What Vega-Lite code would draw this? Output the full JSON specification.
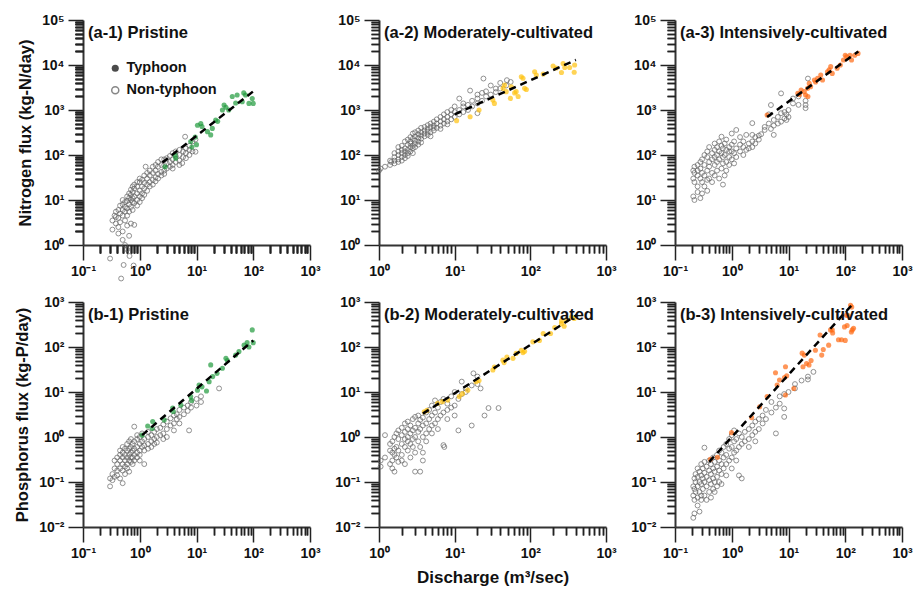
{
"$schema": "https://vega.github.io/schema/vega-lite/v6.json",
"background": "white",
"padding": {"left": 14, "top": 13, "right": 5, "bottom": 5},
"columns": 3,
"bounds": "flush",
"spacing": {"row": 57, "column": 69},
"concat": [
{
"width": 227, "height": 225,
"title": {"text": "(a-1) Pristine", "anchor": "start", "frame": "group", "offset": -28, "dx": 5},
"resolve": {"axis": {"x": "independent", "y": "independent"}, "scale": {"shape": "independent"}, "legend": {"shape": "independent"}},
"layer": [
{"data": {"name": "a1n"}, "mark": {"type": "point", "filled": false, "stroke": "#626262", "strokeWidth": 1, "size": 24, "clip": false},
"encoding": {
"x": {"field": "x", "type": "quantitative", "scale": {"type": "log", "domain": [0.1, 1000], "nice": false}, "axis": {"orient": "bottom", "title": null, "values": [0.1,1,10,100,1000], "labelExpr": "'10' + ['⁻²','⁻¹','⁰','¹','²','³','⁴','⁵'][round(log(datum.value)/LN10)+2]", "tickSize": 15}},
"y": {"field": "y", "type": "quantitative", "scale": {"type": "log", "domain": [1, 100000], "nice": false}, "axis": {"orient": "left", "title": "Nitrogen flux (kg-N/day)", "values": [1,10,100,1000,10000,100000], "labelExpr": "'10' + ['⁻²','⁻¹','⁰','¹','²','³','⁴','⁵'][round(log(datum.value)/LN10)+2]", "tickSize": 15}}}},
{"data": {"name": "a1t"}, "mark": {"type": "point", "filled": true, "color": "#1f9a3c", "size": 26, "clip": false},
"encoding": {
"x": {"field": "x", "type": "quantitative", "axis": {"orient": "bottom", "title": null, "values": [0.2,0.3,0.4,0.5,0.6,0.7,0.8,0.9,2,3,4,5,6,7,8,9,20,30,40,50,60,70,80,90,200,300,400,500,600,700,800,900], "labels": false, "domain": false, "tickSize": 8}},
"y": {"field": "y", "type": "quantitative", "axis": {"orient": "left", "title": null, "values": [2,3,4,5,6,7,8,9,20,30,40,50,60,70,80,90,200,300,400,500,600,700,800,900,2000,3000,4000,5000,6000,7000,8000,9000,20000,30000,40000,50000,60000,70000,80000,90000], "labels": false, "domain": false, "tickSize": 8}}}},
{"data": {"name": "a1l"}, "mark": {"type": "line", "color": "#000000", "strokeWidth": 2.5, "strokeDash": [7, 5], "clip": false},
"encoding": {
"x": {"field": "x", "type": "quantitative", "axis": {"orient": "bottom", "title": null, "values": [0.2,0.3,0.4,0.5,0.6,0.7,0.8,0.9,2,3,4,5,6,7,8,9,20,30,40,50,60,70,80,90,200,300,400,500,600,700,800,900], "labels": false, "domain": false, "tickSize": 8}},
"y": {"field": "y", "type": "quantitative", "axis": {"orient": "left", "title": null, "values": [2,3,4,5,6,7,8,9,20,30,40,50,60,70,80,90,200,300,400,500,600,700,800,900,2000,3000,4000,5000,6000,7000,8000,9000,20000,30000,40000,50000,60000,70000,80000,90000], "labels": false, "domain": false, "tickSize": 8}}}},
{"data": {"name": "a1l"}, "mark": {"type": "point", "filled": true, "color": "#000000", "size": 0, "clip": false},
"encoding": {
"x": {"field": "x", "type": "quantitative", "axis": {"orient": "bottom", "title": null, "values": [0.2,0.3,0.4,0.5,0.6,0.7,0.8,0.9,2,3,4,5,6,7,8,9,20,30,40,50,60,70,80,90,200,300,400,500,600,700,800,900], "labels": false, "domain": false, "tickSize": 8}},
"y": {"field": "y", "type": "quantitative", "axis": {"orient": "left", "title": null, "values": [2,3,4,5,6,7,8,9,20,30,40,50,60,70,80,90,200,300,400,500,600,700,800,900,2000,3000,4000,5000,6000,7000,8000,9000,20000,30000,40000,50000,60000,70000,80000,90000], "labels": false, "domain": false, "tickSize": 8}},
"shape": {"datum": "Typhoon", "scale": {"range": ["circle"]}, "legend": {"title": null, "orient": "none", "legendX": 25, "legendY": 41, "padding": 0, "symbolSize": 50, "labelOffset": 4, "labelFontSize": 14.5, "labelFontWeight": "bold", "labelFont": "Liberation Sans", "labelColor": "#111111"}}}},
{"data": {"name": "a1l"}, "mark": {"type": "point", "filled": false, "color": "#555555", "strokeWidth": 1, "size": 0, "clip": false},
"encoding": {
"x": {"field": "x", "type": "quantitative", "axis": {"orient": "bottom", "title": null, "values": [0.2,0.3,0.4,0.5,0.6,0.7,0.8,0.9,2,3,4,5,6,7,8,9,20,30,40,50,60,70,80,90,200,300,400,500,600,700,800,900], "labels": false, "domain": false, "tickSize": 8}},
"y": {"field": "y", "type": "quantitative", "axis": {"orient": "left", "title": null, "values": [2,3,4,5,6,7,8,9,20,30,40,50,60,70,80,90,200,300,400,500,600,700,800,900,2000,3000,4000,5000,6000,7000,8000,9000,20000,30000,40000,50000,60000,70000,80000,90000], "labels": false, "domain": false, "tickSize": 8}},
"shape": {"datum": "Non-typhoon", "scale": {"range": ["circle"]}, "legend": {"title": null, "orient": "none", "legendX": 25, "legendY": 63, "padding": 0, "symbolSize": 50, "labelOffset": 4, "labelFontSize": 14.5, "labelFontWeight": "bold", "labelFont": "Liberation Sans", "labelColor": "#111111"}}}}
]
},
{
"width": 227, "height": 225,
"title": {"text": "(a-2) Moderately-cultivated", "anchor": "start", "frame": "group", "offset": -28, "dx": 5},
"resolve": {"axis": {"x": "independent", "y": "independent"}},
"layer": [
{"data": {"name": "a2n"}, "mark": {"type": "point", "filled": false, "stroke": "#626262", "strokeWidth": 1, "size": 24, "clip": false},
"encoding": {
"x": {"field": "x", "type": "quantitative", "scale": {"type": "log", "domain": [1, 1000], "nice": false}, "axis": {"orient": "bottom", "title": null, "values": [1,10,100,1000], "labelExpr": "'10' + ['⁻²','⁻¹','⁰','¹','²','³','⁴','⁵'][round(log(datum.value)/LN10)+2]", "tickSize": 15}},
"y": {"field": "y", "type": "quantitative", "scale": {"type": "log", "domain": [1, 100000], "nice": false}, "axis": {"orient": "left", "title": null, "values": [1,10,100,1000,10000,100000], "labelExpr": "'10' + ['⁻²','⁻¹','⁰','¹','²','³','⁴','⁵'][round(log(datum.value)/LN10)+2]", "tickSize": 15}}}},
{"data": {"name": "a2t"}, "mark": {"type": "point", "filled": true, "color": "#ffc20e", "size": 26, "clip": false},
"encoding": {
"x": {"field": "x", "type": "quantitative", "axis": {"orient": "bottom", "title": null, "values": [2,3,4,5,6,7,8,9,20,30,40,50,60,70,80,90,200,300,400,500,600,700,800,900], "labels": false, "domain": false, "tickSize": 8}},
"y": {"field": "y", "type": "quantitative", "axis": {"orient": "left", "title": null, "values": [2,3,4,5,6,7,8,9,20,30,40,50,60,70,80,90,200,300,400,500,600,700,800,900,2000,3000,4000,5000,6000,7000,8000,9000,20000,30000,40000,50000,60000,70000,80000,90000], "labels": false, "domain": false, "tickSize": 8}}}},
{"data": {"name": "a2l"}, "mark": {"type": "line", "color": "#000000", "strokeWidth": 2.5, "strokeDash": [7, 5], "clip": false},
"encoding": {
"x": {"field": "x", "type": "quantitative", "axis": {"orient": "bottom", "title": null, "values": [2,3,4,5,6,7,8,9,20,30,40,50,60,70,80,90,200,300,400,500,600,700,800,900], "labels": false, "domain": false, "tickSize": 8}},
"y": {"field": "y", "type": "quantitative", "axis": {"orient": "left", "title": null, "values": [2,3,4,5,6,7,8,9,20,30,40,50,60,70,80,90,200,300,400,500,600,700,800,900,2000,3000,4000,5000,6000,7000,8000,9000,20000,30000,40000,50000,60000,70000,80000,90000], "labels": false, "domain": false, "tickSize": 8}}}}
]
},
{
"width": 227, "height": 225,
"title": {"text": "(a-3) Intensively-cultivated", "anchor": "start", "frame": "group", "offset": -28, "dx": 5},
"resolve": {"axis": {"x": "independent", "y": "independent"}},
"layer": [
{"data": {"name": "a3n"}, "mark": {"type": "point", "filled": false, "stroke": "#626262", "strokeWidth": 1, "size": 24, "clip": false},
"encoding": {
"x": {"field": "x", "type": "quantitative", "scale": {"type": "log", "domain": [0.1, 1000], "nice": false}, "axis": {"orient": "bottom", "title": null, "values": [0.1,1,10,100,1000], "labelExpr": "'10' + ['⁻²','⁻¹','⁰','¹','²','³','⁴','⁵'][round(log(datum.value)/LN10)+2]", "tickSize": 15}},
"y": {"field": "y", "type": "quantitative", "scale": {"type": "log", "domain": [1, 100000], "nice": false}, "axis": {"orient": "left", "title": null, "values": [1,10,100,1000,10000,100000], "labelExpr": "'10' + ['⁻²','⁻¹','⁰','¹','²','³','⁴','⁵'][round(log(datum.value)/LN10)+2]", "tickSize": 15}}}},
{"data": {"name": "a3t"}, "mark": {"type": "point", "filled": true, "color": "#ff6a13", "size": 26, "clip": false},
"encoding": {
"x": {"field": "x", "type": "quantitative", "axis": {"orient": "bottom", "title": null, "values": [0.2,0.3,0.4,0.5,0.6,0.7,0.8,0.9,2,3,4,5,6,7,8,9,20,30,40,50,60,70,80,90,200,300,400,500,600,700,800,900], "labels": false, "domain": false, "tickSize": 8}},
"y": {"field": "y", "type": "quantitative", "axis": {"orient": "left", "title": null, "values": [2,3,4,5,6,7,8,9,20,30,40,50,60,70,80,90,200,300,400,500,600,700,800,900,2000,3000,4000,5000,6000,7000,8000,9000,20000,30000,40000,50000,60000,70000,80000,90000], "labels": false, "domain": false, "tickSize": 8}}}},
{"data": {"name": "a3l"}, "mark": {"type": "line", "color": "#000000", "strokeWidth": 2.5, "strokeDash": [7, 5], "clip": false},
"encoding": {
"x": {"field": "x", "type": "quantitative", "axis": {"orient": "bottom", "title": null, "values": [0.2,0.3,0.4,0.5,0.6,0.7,0.8,0.9,2,3,4,5,6,7,8,9,20,30,40,50,60,70,80,90,200,300,400,500,600,700,800,900], "labels": false, "domain": false, "tickSize": 8}},
"y": {"field": "y", "type": "quantitative", "axis": {"orient": "left", "title": null, "values": [2,3,4,5,6,7,8,9,20,30,40,50,60,70,80,90,200,300,400,500,600,700,800,900,2000,3000,4000,5000,6000,7000,8000,9000,20000,30000,40000,50000,60000,70000,80000,90000], "labels": false, "domain": false, "tickSize": 8}}}}
]
},
{
"width": 227, "height": 225,
"title": {"text": "(b-1) Pristine", "anchor": "start", "frame": "group", "offset": -28, "dx": 5},
"resolve": {"axis": {"x": "independent", "y": "independent"}},
"layer": [
{"data": {"name": "b1n"}, "mark": {"type": "point", "filled": false, "stroke": "#626262", "strokeWidth": 1, "size": 24, "clip": false},
"encoding": {
"x": {"field": "x", "type": "quantitative", "scale": {"type": "log", "domain": [0.1, 1000], "nice": false}, "axis": {"orient": "bottom", "title": null, "values": [0.1,1,10,100,1000], "labelExpr": "'10' + ['⁻²','⁻¹','⁰','¹','²','³','⁴','⁵'][round(log(datum.value)/LN10)+2]", "tickSize": 15}},
"y": {"field": "y", "type": "quantitative", "scale": {"type": "log", "domain": [0.01, 1000], "nice": false}, "axis": {"orient": "left", "title": "Phosphorus flux (kg-P/day)", "values": [0.01,0.1,1,10,100,1000], "labelExpr": "'10' + ['⁻²','⁻¹','⁰','¹','²','³','⁴','⁵'][round(log(datum.value)/LN10)+2]", "tickSize": 15}}}},
{"data": {"name": "b1t"}, "mark": {"type": "point", "filled": true, "color": "#1f9a3c", "size": 26, "clip": false},
"encoding": {
"x": {"field": "x", "type": "quantitative", "axis": {"orient": "bottom", "title": null, "values": [0.2,0.3,0.4,0.5,0.6,0.7,0.8,0.9,2,3,4,5,6,7,8,9,20,30,40,50,60,70,80,90,200,300,400,500,600,700,800,900], "labels": false, "domain": false, "tickSize": 8}},
"y": {"field": "y", "type": "quantitative", "axis": {"orient": "left", "title": null, "values": [0.02,0.03,0.04,0.05,0.06,0.07,0.08,0.09,0.2,0.3,0.4,0.5,0.6,0.7,0.8,0.9,2,3,4,5,6,7,8,9,20,30,40,50,60,70,80,90,200,300,400,500,600,700,800,900], "labels": false, "domain": false, "tickSize": 8}}}},
{"data": {"name": "b1l"}, "mark": {"type": "line", "color": "#000000", "strokeWidth": 2.5, "strokeDash": [7, 5], "clip": false},
"encoding": {
"x": {"field": "x", "type": "quantitative", "axis": {"orient": "bottom", "title": null, "values": [0.2,0.3,0.4,0.5,0.6,0.7,0.8,0.9,2,3,4,5,6,7,8,9,20,30,40,50,60,70,80,90,200,300,400,500,600,700,800,900], "labels": false, "domain": false, "tickSize": 8}},
"y": {"field": "y", "type": "quantitative", "axis": {"orient": "left", "title": null, "values": [0.02,0.03,0.04,0.05,0.06,0.07,0.08,0.09,0.2,0.3,0.4,0.5,0.6,0.7,0.8,0.9,2,3,4,5,6,7,8,9,20,30,40,50,60,70,80,90,200,300,400,500,600,700,800,900], "labels": false, "domain": false, "tickSize": 8}}}}
]
},
{
"width": 227, "height": 225,
"title": {"text": "(b-2) Moderately-cultivated", "anchor": "start", "frame": "group", "offset": -28, "dx": 5},
"resolve": {"axis": {"x": "independent", "y": "independent"}},
"layer": [
{"data": {"name": "b2n"}, "mark": {"type": "point", "filled": false, "stroke": "#626262", "strokeWidth": 1, "size": 24, "clip": false},
"encoding": {
"x": {"field": "x", "type": "quantitative", "scale": {"type": "log", "domain": [1, 1000], "nice": false}, "axis": {"orient": "bottom", "title": "Discharge (m³/sec)", "titleFontSize": 17, "titlePadding": 9, "values": [1,10,100,1000], "labelExpr": "'10' + ['⁻²','⁻¹','⁰','¹','²','³','⁴','⁵'][round(log(datum.value)/LN10)+2]", "tickSize": 15}},
"y": {"field": "y", "type": "quantitative", "scale": {"type": "log", "domain": [0.01, 1000], "nice": false}, "axis": {"orient": "left", "title": null, "values": [0.01,0.1,1,10,100,1000], "labelExpr": "'10' + ['⁻²','⁻¹','⁰','¹','²','³','⁴','⁵'][round(log(datum.value)/LN10)+2]", "tickSize": 15}}}},
{"data": {"name": "b2t"}, "mark": {"type": "point", "filled": true, "color": "#ffc20e", "size": 26, "clip": false},
"encoding": {
"x": {"field": "x", "type": "quantitative", "axis": {"orient": "bottom", "title": null, "values": [2,3,4,5,6,7,8,9,20,30,40,50,60,70,80,90,200,300,400,500,600,700,800,900], "labels": false, "domain": false, "tickSize": 8}},
"y": {"field": "y", "type": "quantitative", "axis": {"orient": "left", "title": null, "values": [0.02,0.03,0.04,0.05,0.06,0.07,0.08,0.09,0.2,0.3,0.4,0.5,0.6,0.7,0.8,0.9,2,3,4,5,6,7,8,9,20,30,40,50,60,70,80,90,200,300,400,500,600,700,800,900], "labels": false, "domain": false, "tickSize": 8}}}},
{"data": {"name": "b2l"}, "mark": {"type": "line", "color": "#000000", "strokeWidth": 2.5, "strokeDash": [7, 5], "clip": false},
"encoding": {
"x": {"field": "x", "type": "quantitative", "axis": {"orient": "bottom", "title": null, "values": [2,3,4,5,6,7,8,9,20,30,40,50,60,70,80,90,200,300,400,500,600,700,800,900], "labels": false, "domain": false, "tickSize": 8}},
"y": {"field": "y", "type": "quantitative", "axis": {"orient": "left", "title": null, "values": [0.02,0.03,0.04,0.05,0.06,0.07,0.08,0.09,0.2,0.3,0.4,0.5,0.6,0.7,0.8,0.9,2,3,4,5,6,7,8,9,20,30,40,50,60,70,80,90,200,300,400,500,600,700,800,900], "labels": false, "domain": false, "tickSize": 8}}}}
]
},
{
"width": 227, "height": 225,
"title": {"text": "(b-3) Intensively-cultivated", "anchor": "start", "frame": "group", "offset": -28, "dx": 5},
"resolve": {"axis": {"x": "independent", "y": "independent"}},
"layer": [
{"data": {"name": "b3n"}, "mark": {"type": "point", "filled": false, "stroke": "#626262", "strokeWidth": 1, "size": 24, "clip": false},
"encoding": {
"x": {"field": "x", "type": "quantitative", "scale": {"type": "log", "domain": [0.1, 1000], "nice": false}, "axis": {"orient": "bottom", "title": null, "values": [0.1,1,10,100,1000], "labelExpr": "'10' + ['⁻²','⁻¹','⁰','¹','²','³','⁴','⁵'][round(log(datum.value)/LN10)+2]", "tickSize": 15}},
"y": {"field": "y", "type": "quantitative", "scale": {"type": "log", "domain": [0.01, 1000], "nice": false}, "axis": {"orient": "left", "title": null, "values": [0.01,0.1,1,10,100,1000], "labelExpr": "'10' + ['⁻²','⁻¹','⁰','¹','²','³','⁴','⁵'][round(log(datum.value)/LN10)+2]", "tickSize": 15}}}},
{"data": {"name": "b3t"}, "mark": {"type": "point", "filled": true, "color": "#ff6a13", "size": 26, "clip": false},
"encoding": {
"x": {"field": "x", "type": "quantitative", "axis": {"orient": "bottom", "title": null, "values": [0.2,0.3,0.4,0.5,0.6,0.7,0.8,0.9,2,3,4,5,6,7,8,9,20,30,40,50,60,70,80,90,200,300,400,500,600,700,800,900], "labels": false, "domain": false, "tickSize": 8}},
"y": {"field": "y", "type": "quantitative", "axis": {"orient": "left", "title": null, "values": [0.02,0.03,0.04,0.05,0.06,0.07,0.08,0.09,0.2,0.3,0.4,0.5,0.6,0.7,0.8,0.9,2,3,4,5,6,7,8,9,20,30,40,50,60,70,80,90,200,300,400,500,600,700,800,900], "labels": false, "domain": false, "tickSize": 8}}}},
{"data": {"name": "b3l"}, "mark": {"type": "line", "color": "#000000", "strokeWidth": 2.5, "strokeDash": [7, 5], "clip": false},
"encoding": {
"x": {"field": "x", "type": "quantitative", "axis": {"orient": "bottom", "title": null, "values": [0.2,0.3,0.4,0.5,0.6,0.7,0.8,0.9,2,3,4,5,6,7,8,9,20,30,40,50,60,70,80,90,200,300,400,500,600,700,800,900], "labels": false, "domain": false, "tickSize": 8}},
"y": {"field": "y", "type": "quantitative", "axis": {"orient": "left", "title": null, "values": [0.02,0.03,0.04,0.05,0.06,0.07,0.08,0.09,0.2,0.3,0.4,0.5,0.6,0.7,0.8,0.9,2,3,4,5,6,7,8,9,20,30,40,50,60,70,80,90,200,300,400,500,600,700,800,900], "labels": false, "domain": false, "tickSize": 8}}}}
]
}
],
"datasets": {
"a1t": [{"x":2.8,"y":55},{"x":4.2,"y":100},{"x":4.3,"y":85},{"x":7.9,"y":200},{"x":8.3,"y":150},{"x":9.5,"y":250},{"x":10,"y":170},{"x":10.4,"y":460},{"x":11.9,"y":500},{"x":12.5,"y":430},{"x":15.6,"y":330},{"x":17.8,"y":280},{"x":19,"y":390},{"x":21.8,"y":600},{"x":23.6,"y":560},{"x":28.6,"y":1000},{"x":30.6,"y":1290},{"x":33,"y":1150},{"x":37,"y":1000},{"x":42.7,"y":1990},{"x":49,"y":1430},{"x":52,"y":2150},{"x":64,"y":1530},{"x":68,"y":2400},{"x":73,"y":2150},{"x":84,"y":1400},{"x":96,"y":1800},{"x":100,"y":1400}],
"a1n": [{"x":0.33,"y":3.5},{"x":0.33,"y":2.2},{"x":0.36,"y":4.5},{"x":0.38,"y":4.2},{"x":0.38,"y":3.0},{"x":0.38,"y":5.5},{"x":0.42,"y":2.5},{"x":0.42,"y":6.0},{"x":0.42,"y":1.8},{"x":0.42,"y":4.0},{"x":0.45,"y":3.2},{"x":0.45,"y":7.5},{"x":0.45,"y":5.0},{"x":0.5,"y":4.5},{"x":0.5,"y":8.0},{"x":0.5,"y":1.3},{"x":0.5,"y":2.0},{"x":0.5,"y":6.0},{"x":0.5,"y":10},{"x":0.55,"y":1.0},{"x":0.55,"y":3.5},{"x":0.55,"y":7.0},{"x":0.55,"y":9.0},{"x":0.55,"y":5.5},{"x":0.6,"y":6.5},{"x":0.6,"y":12},{"x":0.6,"y":2.7},{"x":0.6,"y":0.8},{"x":0.6,"y":9.5},{"x":0.6,"y":4.5},{"x":0.65,"y":8.0},{"x":0.65,"y":11},{"x":0.65,"y":14},{"x":0.65,"y":1.6},{"x":0.65,"y":5.5},{"x":0.7,"y":7.0},{"x":0.7,"y":10},{"x":0.7,"y":13},{"x":0.7,"y":3.0},{"x":0.7,"y":17},{"x":0.75,"y":9.0},{"x":0.75,"y":15},{"x":0.75,"y":11},{"x":0.75,"y":6.0},{"x":0.75,"y":20},{"x":0.8,"y":8.5},{"x":0.8,"y":12},{"x":0.8,"y":18},{"x":0.8,"y":22},{"x":0.8,"y":2.8},{"x":0.9,"y":10},{"x":0.9,"y":14},{"x":0.9,"y":20},{"x":0.9,"y":25},{"x":0.9,"y":7.5},{"x":1.0,"y":12},{"x":1.0,"y":16},{"x":1.0,"y":25},{"x":1.0,"y":9},{"x":1.0,"y":30},{"x":1.1,"y":14},{"x":1.1,"y":20},{"x":1.1,"y":28},{"x":1.1,"y":11},{"x":1.2,"y":18},{"x":1.2,"y":24},{"x":1.2,"y":35},{"x":1.2,"y":13},{"x":1.27,"y":55},{"x":1.35,"y":22},{"x":1.35,"y":30},{"x":1.35,"y":16},{"x":1.35,"y":40},{"x":1.5,"y":25},{"x":1.5,"y":35},{"x":1.5,"y":45},{"x":1.5,"y":20},{"x":1.7,"y":28},{"x":1.7,"y":40},{"x":1.7,"y":55},{"x":1.7,"y":22},{"x":1.9,"y":32},{"x":1.9,"y":45},{"x":1.9,"y":60},{"x":1.9,"y":26},{"x":2.1,"y":38},{"x":2.1,"y":55},{"x":2.1,"y":70},{"x":2.1,"y":30},{"x":2.4,"y":42},{"x":2.4,"y":60},{"x":2.4,"y":80},{"x":2.4,"y":35},{"x":2.7,"y":45},{"x":2.7,"y":60},{"x":2.7,"y":80},{"x":2.7,"y":38},{"x":3.0,"y":50},{"x":3.0,"y":65},{"x":3.0,"y":85},{"x":3.4,"y":55},{"x":3.4,"y":70},{"x":3.4,"y":95},{"x":3.8,"y":60},{"x":3.8,"y":80},{"x":3.8,"y":110},{"x":3.8,"y":50},{"x":4.3,"y":70},{"x":4.3,"y":95},{"x":4.3,"y":120},{"x":5.0,"y":75},{"x":5.0,"y":100},{"x":5.0,"y":130},{"x":5.0,"y":60},{"x":5.6,"y":66},{"x":5.8,"y":90},{"x":5.8,"y":120},{"x":6.3,"y":255},{"x":6.5,"y":110},{"x":6.5,"y":140},{"x":6.5,"y":85},{"x":7.5,"y":130},{"x":7.5,"y":160},{"x":7.5,"y":100},{"x":8.5,"y":200},{"x":8.5,"y":120},{"x":9.6,"y":118},{"x":9.6,"y":220},{"x":0.30,"y":0.5},{"x":0.52,"y":0.36},{"x":0.78,"y":0.35},{"x":0.66,"y":0.57},{"x":0.47,"y":0.18}],
"a1l": [{"x":2.5,"y":68},{"x":100,"y":2600}],
"a2t": [{"x":10.6,"y":580},{"x":16,"y":710},{"x":21,"y":1000},{"x":32,"y":1660},{"x":33.5,"y":1400},{"x":43.6,"y":3030},{"x":45.6,"y":3600},{"x":48,"y":2560},{"x":54.5,"y":1810},{"x":56,"y":3280},{"x":62,"y":2400},{"x":65,"y":2560},{"x":69,"y":1990},{"x":76,"y":5500},{"x":80,"y":5070},{"x":84,"y":3030},{"x":88.6,"y":2850},{"x":114,"y":7100},{"x":120,"y":6000},{"x":148,"y":6300},{"x":200,"y":9500},{"x":220,"y":8600},{"x":258,"y":6800},{"x":271,"y":10800},{"x":285,"y":8800},{"x":331,"y":8800},{"x":380,"y":6900},{"x":385,"y":10000}],
"a2n": [{"x":1.0,"y":45},{"x":1.05,"y":50},{"x":1.2,"y":55},{"x":1.4,"y":60},{"x":1.4,"y":75},{"x":1.45,"y":70},{"x":1.6,"y":65},{"x":1.6,"y":90},{"x":1.6,"y":75},{"x":1.6,"y":110},{"x":1.8,"y":80},{"x":1.8,"y":120},{"x":1.8,"y":70},{"x":1.8,"y":150},{"x":1.8,"y":100},{"x":2.0,"y":90},{"x":2.0,"y":130},{"x":2.0,"y":160},{"x":2.0,"y":110},{"x":2.0,"y":75},{"x":2.2,"y":100},{"x":2.2,"y":140},{"x":2.2,"y":200},{"x":2.2,"y":120},{"x":2.2,"y":85},{"x":2.4,"y":130},{"x":2.4,"y":170},{"x":2.4,"y":110},{"x":2.4,"y":220},{"x":2.4,"y":95},{"x":2.6,"y":150},{"x":2.6,"y":200},{"x":2.6,"y":120},{"x":2.6,"y":250},{"x":2.6,"y":180},{"x":2.8,"y":160},{"x":2.8,"y":230},{"x":2.8,"y":140},{"x":2.8,"y":300},{"x":2.8,"y":110},{"x":3.0,"y":180},{"x":3.0,"y":260},{"x":3.0,"y":150},{"x":3.0,"y":320},{"x":3.0,"y":210},{"x":3.3,"y":200},{"x":3.3,"y":290},{"x":3.3,"y":170},{"x":3.3,"y":350},{"x":3.3,"y":240},{"x":3.6,"y":230},{"x":3.6,"y":320},{"x":3.6,"y":400},{"x":3.6,"y":190},{"x":3.6,"y":270},{"x":4.0,"y":260},{"x":4.0,"y":350},{"x":4.0,"y":420},{"x":4.0,"y":300},{"x":4.4,"y":280},{"x":4.4,"y":380},{"x":4.4,"y":460},{"x":4.4,"y":330},{"x":4.8,"y":320},{"x":4.8,"y":420},{"x":4.8,"y":500},{"x":4.8,"y":260},{"x":5.3,"y":350},{"x":5.3,"y":450},{"x":5.3,"y":550},{"x":5.3,"y":400},{"x":5.8,"y":400},{"x":5.8,"y":500},{"x":5.8,"y":620},{"x":6.5,"y":450},{"x":6.5,"y":560},{"x":6.5,"y":700},{"x":6.5,"y":380},{"x":7.2,"y":500},{"x":7.2,"y":620},{"x":7.2,"y":800},{"x":8,"y":560},{"x":8,"y":700},{"x":8,"y":900},{"x":8,"y":480},{"x":9,"y":620},{"x":9,"y":800},{"x":9,"y":1000},{"x":10,"y":700},{"x":10,"y":900},{"x":10,"y":1200},{"x":11.5,"y":1800},{"x":11.5,"y":800},{"x":11.5,"y":1000},{"x":13,"y":900},{"x":13,"y":1200},{"x":13,"y":1400},{"x":15,"y":1000},{"x":15,"y":1300},{"x":16,"y":2700},{"x":17,"y":1200},{"x":17,"y":1600},{"x":20,"y":1400},{"x":20,"y":1800},{"x":20,"y":2200},{"x":20,"y":850},{"x":23,"y":1600},{"x":23,"y":2400},{"x":24,"y":5000},{"x":26,"y":2000},{"x":26,"y":2600},{"x":30,"y":2200},{"x":30,"y":3500},{"x":35,"y":2500},{"x":35,"y":3000},{"x":40,"y":3000},{"x":40,"y":4000},{"x":48,"y":3500},{"x":49,"y":4600},{"x":55,"y":4200}],
"a2l": [{"x":10,"y":800},{"x":400,"y":13000}],
"a3t": [{"x":4.2,"y":775},{"x":14.6,"y":2340},{"x":15.6,"y":2200},{"x":16.7,"y":2780},{"x":19,"y":2560},{"x":20,"y":2150},{"x":21.7,"y":3030},{"x":22,"y":2000},{"x":23.2,"y":3900},{"x":24.5,"y":3300},{"x":28.6,"y":4650},{"x":30,"y":4200},{"x":32.6,"y":5060},{"x":37,"y":6000},{"x":39.8,"y":4650},{"x":48.6,"y":7100},{"x":52,"y":7800},{"x":55.4,"y":9200},{"x":59,"y":6500},{"x":72,"y":8500},{"x":82,"y":10000},{"x":93,"y":12900},{"x":100,"y":16500},{"x":106,"y":15300},{"x":121,"y":16500},{"x":129,"y":12900},{"x":147,"y":16500},{"x":168,"y":18100}],
"a3n": [{"x":0.21,"y":12},{"x":0.21,"y":30},{"x":0.21,"y":45},{"x":0.22,"y":10},{"x":0.22,"y":40},{"x":0.22,"y":55},{"x":0.22,"y":25},{"x":0.25,"y":15},{"x":0.25,"y":35},{"x":0.25,"y":60},{"x":0.25,"y":20},{"x":0.25,"y":45},{"x":0.28,"y":11},{"x":0.28,"y":50},{"x":0.28,"y":30},{"x":0.28,"y":70},{"x":0.3,"y":14},{"x":0.3,"y":25},{"x":0.3,"y":80},{"x":0.3,"y":40},{"x":0.33,"y":20},{"x":0.33,"y":60},{"x":0.33,"y":35},{"x":0.33,"y":100},{"x":0.37,"y":28},{"x":0.37,"y":45},{"x":0.37,"y":90},{"x":0.37,"y":120},{"x":0.37,"y":16},{"x":0.4,"y":30},{"x":0.4,"y":55},{"x":0.4,"y":150},{"x":0.4,"y":70},{"x":0.45,"y":40},{"x":0.45,"y":80},{"x":0.45,"y":110},{"x":0.45,"y":25},{"x":0.5,"y":35},{"x":0.5,"y":60},{"x":0.5,"y":130},{"x":0.5,"y":180},{"x":0.5,"y":90},{"x":0.55,"y":45},{"x":0.55,"y":100},{"x":0.55,"y":150},{"x":0.55,"y":70},{"x":0.6,"y":30},{"x":0.6,"y":80},{"x":0.6,"y":200},{"x":0.6,"y":120},{"x":0.66,"y":255},{"x":0.66,"y":50},{"x":0.66,"y":110},{"x":0.66,"y":160},{"x":0.7,"y":22},{"x":0.7,"y":65},{"x":0.7,"y":140},{"x":0.7,"y":90},{"x":0.75,"y":35},{"x":0.75,"y":100},{"x":0.75,"y":180},{"x":0.8,"y":70},{"x":0.8,"y":130},{"x":0.8,"y":220},{"x":0.8,"y":45},{"x":0.9,"y":90},{"x":0.9,"y":150},{"x":0.9,"y":60},{"x":0.9,"y":120},{"x":1.0,"y":80},{"x":1.0,"y":120},{"x":1.0,"y":300},{"x":1.0,"y":170},{"x":1.1,"y":110},{"x":1.1,"y":200},{"x":1.1,"y":65},{"x":1.2,"y":360},{"x":1.2,"y":140},{"x":1.2,"y":90},{"x":1.4,"y":120},{"x":1.4,"y":170},{"x":1.4,"y":250},{"x":1.6,"y":150},{"x":1.6,"y":200},{"x":1.6,"y":100},{"x":1.8,"y":130},{"x":1.8,"y":280},{"x":2.0,"y":140},{"x":2.0,"y":180},{"x":2.3,"y":510},{"x":2.3,"y":200},{"x":2.3,"y":280},{"x":2.3,"y":150},{"x":2.6,"y":250},{"x":2.6,"y":180},{"x":3.0,"y":270},{"x":3.0,"y":220},{"x":3.3,"y":290},{"x":3.8,"y":360},{"x":3.8,"y":420},{"x":4.5,"y":800},{"x":4.5,"y":500},{"x":4.9,"y":1290},{"x":4.9,"y":380},{"x":5.5,"y":280},{"x":5.5,"y":600},{"x":5.5,"y":450},{"x":6.5,"y":700},{"x":6.5,"y":500},{"x":7.4,"y":2340},{"x":7.4,"y":850},{"x":7.4,"y":550},{"x":8.5,"y":900},{"x":8.5,"y":650},{"x":9.2,"y":600},{"x":9.2,"y":800},{"x":10,"y":1000},{"x":10,"y":700},{"x":12,"y":1800},{"x":12,"y":1400},{"x":15,"y":1300},{"x":15,"y":2000},{"x":20,"y":1290},{"x":20,"y":1600},{"x":20,"y":1100},{"x":22,"y":5000}],
"a3l": [{"x":4.2,"y":700},{"x":170,"y":20000}],
"b1t": [{"x":1.1,"y":1.1},{"x":1.38,"y":1.75},{"x":1.65,"y":1.55},{"x":1.69,"y":2.2},{"x":2.7,"y":2.4},{"x":3.8,"y":4.4},{"x":3.9,"y":3.7},{"x":5.3,"y":5.1},{"x":7.9,"y":7.9},{"x":8.2,"y":6.5},{"x":10.4,"y":11},{"x":11.1,"y":14.3},{"x":12.5,"y":13},{"x":15,"y":10.5},{"x":16.7,"y":17},{"x":17.8,"y":40},{"x":19.3,"y":22},{"x":23,"y":26},{"x":28.6,"y":33.7},{"x":33,"y":56},{"x":35,"y":50},{"x":49,"y":66},{"x":56,"y":79},{"x":69,"y":110},{"x":78,"y":125},{"x":84,"y":100},{"x":96,"y":240},{"x":100,"y":125}],
"b1n": [{"x":0.3,"y":0.08},{"x":0.3,"y":0.12},{"x":0.33,"y":0.11},{"x":0.33,"y":0.15},{"x":0.36,"y":0.13},{"x":0.36,"y":0.2},{"x":0.36,"y":0.3},{"x":0.4,"y":0.18},{"x":0.4,"y":0.25},{"x":0.4,"y":0.35},{"x":0.4,"y":0.14},{"x":0.45,"y":0.2},{"x":0.45,"y":0.3},{"x":0.45,"y":0.4},{"x":0.45,"y":0.12},{"x":0.45,"y":0.5},{"x":0.5,"y":0.094},{"x":0.5,"y":0.25},{"x":0.5,"y":0.35},{"x":0.5,"y":0.45},{"x":0.5,"y":0.6},{"x":0.5,"y":0.18},{"x":0.55,"y":0.22},{"x":0.55,"y":0.3},{"x":0.55,"y":0.4},{"x":0.55,"y":0.55},{"x":0.55,"y":0.15},{"x":0.6,"y":0.25},{"x":0.6,"y":0.35},{"x":0.6,"y":0.5},{"x":0.6,"y":0.7},{"x":0.6,"y":0.2},{"x":0.65,"y":0.3},{"x":0.65,"y":0.4},{"x":0.65,"y":0.55},{"x":0.65,"y":0.8},{"x":0.65,"y":0.17},{"x":0.7,"y":0.28},{"x":0.7,"y":0.45},{"x":0.7,"y":0.6},{"x":0.7,"y":0.35},{"x":0.7,"y":0.9},{"x":0.75,"y":0.35},{"x":0.75,"y":0.5},{"x":0.75,"y":0.7},{"x":0.75,"y":0.25},{"x":0.8,"y":1.7},{"x":0.8,"y":0.4},{"x":0.8,"y":0.55},{"x":0.8,"y":0.8},{"x":0.8,"y":0.3},{"x":0.9,"y":0.45},{"x":0.9,"y":0.6},{"x":0.9,"y":0.9},{"x":0.9,"y":0.35},{"x":0.9,"y":1.1},{"x":1.0,"y":0.5},{"x":1.0,"y":0.7},{"x":1.0,"y":1.0},{"x":1.0,"y":0.4},{"x":1.0,"y":0.3},{"x":1.1,"y":0.6},{"x":1.1,"y":0.8},{"x":1.1,"y":1.2},{"x":1.2,"y":0.65},{"x":1.2,"y":0.9},{"x":1.2,"y":0.5},{"x":1.2,"y":0.25},{"x":1.4,"y":0.7},{"x":1.4,"y":1.0},{"x":1.4,"y":1.3},{"x":1.4,"y":0.55},{"x":1.6,"y":0.8},{"x":1.6,"y":1.1},{"x":1.6,"y":0.6},{"x":1.8,"y":0.9},{"x":1.8,"y":1.3},{"x":1.8,"y":0.7},{"x":2.0,"y":1.0},{"x":2.0,"y":1.5},{"x":2.0,"y":0.75},{"x":2.3,"y":1.1},{"x":2.3,"y":1.6},{"x":2.6,"y":1.2},{"x":2.6,"y":1.9},{"x":2.6,"y":0.9},{"x":3.0,"y":1.5},{"x":3.0,"y":2.2},{"x":3.0,"y":1.0},{"x":3.5,"y":1.8},{"x":3.5,"y":2.6},{"x":4.0,"y":2.0},{"x":4.0,"y":3.0},{"x":4.0,"y":1.4},{"x":4.5,"y":2.5},{"x":4.5,"y":3.2},{"x":5.0,"y":2.8},{"x":5.0,"y":4.0},{"x":5.0,"y":2.0},{"x":6.0,"y":3.2},{"x":6.0,"y":4.5},{"x":7.0,"y":3.8},{"x":7.0,"y":5.0},{"x":7.4,"y":1.4},{"x":8.0,"y":4.5},{"x":8.0,"y":6.0},{"x":10,"y":5.0},{"x":10,"y":7},{"x":12,"y":6.0},{"x":12,"y":8},{"x":25,"y":12}],
"b1l": [{"x":1.1,"y":1.1},{"x":100,"y":140}],
"b2t": [{"x":3.96,"y":3.65},{"x":4.3,"y":3.9},{"x":5.95,"y":5.6},{"x":6.9,"y":6.1},{"x":8.1,"y":6.6},{"x":11.5,"y":7.9},{"x":12.7,"y":9.2},{"x":14.9,"y":11},{"x":19.2,"y":17},{"x":21,"y":18},{"x":32,"y":30.8},{"x":33.5,"y":36},{"x":43.4,"y":51},{"x":45,"y":45},{"x":49,"y":60},{"x":59,"y":56},{"x":65,"y":72},{"x":76,"y":85},{"x":80,"y":75},{"x":84,"y":80},{"x":108,"y":130},{"x":132,"y":140},{"x":148,"y":200},{"x":185,"y":200},{"x":210,"y":270},{"x":258,"y":330},{"x":258,"y":380},{"x":280,"y":290},{"x":300,"y":400},{"x":350,"y":465},{"x":380,"y":430}],
"b2n": [{"x":1.05,"y":0.22},{"x":1.05,"y":0.3},{"x":1.2,"y":1.1},{"x":1.2,"y":0.35},{"x":1.4,"y":0.25},{"x":1.4,"y":0.5},{"x":1.4,"y":0.7},{"x":1.5,"y":0.3},{"x":1.5,"y":0.45},{"x":1.5,"y":0.8},{"x":1.5,"y":0.2},{"x":1.6,"y":0.17},{"x":1.6,"y":0.55},{"x":1.6,"y":1.0},{"x":1.6,"y":0.4},{"x":1.7,"y":0.6},{"x":1.7,"y":0.35},{"x":1.7,"y":1.2},{"x":1.8,"y":0.5},{"x":1.8,"y":0.9},{"x":1.8,"y":0.28},{"x":1.8,"y":1.4},{"x":2.0,"y":0.4},{"x":2.0,"y":0.7},{"x":2.0,"y":1.1},{"x":2.0,"y":1.6},{"x":2.0,"y":0.3},{"x":2.2,"y":0.6},{"x":2.2,"y":0.9},{"x":2.2,"y":1.3},{"x":2.2,"y":0.25},{"x":2.2,"y":2.0},{"x":2.4,"y":0.5},{"x":2.4,"y":1.0},{"x":2.4,"y":1.5},{"x":2.4,"y":0.8},{"x":2.4,"y":2.2},{"x":2.6,"y":0.7},{"x":2.6,"y":1.2},{"x":2.6,"y":1.8},{"x":2.6,"y":0.35},{"x":2.8,"y":0.9},{"x":2.8,"y":1.4},{"x":2.8,"y":2.5},{"x":2.8,"y":0.6},{"x":3.0,"y":0.17},{"x":3.0,"y":1.0},{"x":3.0,"y":1.6},{"x":3.0,"y":2.8},{"x":3.0,"y":0.45},{"x":3.3,"y":0.8},{"x":3.3,"y":1.3},{"x":3.3,"y":2.0},{"x":3.3,"y":3.0},{"x":3.5,"y":0.17},{"x":3.5,"y":0.6},{"x":3.5,"y":1.5},{"x":3.5,"y":2.4},{"x":3.8,"y":0.3},{"x":3.8,"y":1.0},{"x":3.8,"y":1.8},{"x":3.8,"y":2.7},{"x":3.8,"y":0.45},{"x":4.2,"y":1.2},{"x":4.2,"y":2.0},{"x":4.2,"y":3.5},{"x":4.2,"y":0.8},{"x":4.6,"y":1.5},{"x":4.6,"y":2.5},{"x":4.6,"y":4.0},{"x":5.0,"y":1.8},{"x":5.0,"y":3.0},{"x":5.0,"y":5.0},{"x":5.0,"y":1.2},{"x":5.5,"y":2.0},{"x":5.5,"y":3.5},{"x":5.5,"y":6.5},{"x":6.0,"y":2.5},{"x":6.0,"y":4.5},{"x":6.0,"y":1.5},{"x":6.5,"y":3.0},{"x":6.5,"y":6.0},{"x":7.1,"y":0.66},{"x":7.3,"y":0.6},{"x":7.1,"y":3.5},{"x":7.1,"y":7.0},{"x":8.0,"y":4.0},{"x":8.0,"y":5.5},{"x":8.0,"y":2.5},{"x":9.0,"y":4.5},{"x":9.0,"y":8.0},{"x":10,"y":5.0},{"x":10,"y":10},{"x":10,"y":3.0},{"x":11.2,"y":1.4},{"x":11.2,"y":7},{"x":12.4,"y":17},{"x":12.4,"y":9},{"x":14,"y":10},{"x":14,"y":12},{"x":16.8,"y":1.8},{"x":16.8,"y":14},{"x":17.7,"y":26},{"x":20,"y":15},{"x":20,"y":22},{"x":22,"y":12},{"x":24.8,"y":3.0},{"x":28,"y":4.4},{"x":38,"y":4.4}],
"b2l": [{"x":3.8,"y":3.3},{"x":410,"y":510}],
"b3t": [{"x":0.42,"y":0.32},{"x":0.56,"y":0.354},{"x":0.99,"y":1.25},{"x":2.24,"y":2.7},{"x":3.1,"y":4.7},{"x":4.2,"y":7.9},{"x":5.9,"y":26.8},{"x":6.3,"y":14.3},{"x":6.95,"y":18.5},{"x":8.5,"y":21},{"x":8.85,"y":36.5},{"x":8.85,"y":8.6},{"x":9.3,"y":23},{"x":12.4,"y":12},{"x":17.4,"y":73},{"x":18,"y":36.5},{"x":19,"y":66},{"x":20.8,"y":43},{"x":23,"y":40},{"x":25,"y":50},{"x":29.8,"y":85},{"x":36,"y":185},{"x":38.5,"y":66},{"x":41,"y":88},{"x":51,"y":110},{"x":55,"y":240},{"x":59,"y":240},{"x":60,"y":205},{"x":76,"y":145},{"x":86,"y":145},{"x":97,"y":280},{"x":100,"y":140},{"x":105,"y":510},{"x":108,"y":300},{"x":112,"y":500},{"x":124,"y":850},{"x":128,"y":215},{"x":130,"y":770},{"x":133,"y":240},{"x":140,"y":260}],
"b3n": [{"x":0.21,"y":0.016},{"x":0.21,"y":0.05},{"x":0.21,"y":0.08},{"x":0.22,"y":0.02},{"x":0.22,"y":0.07},{"x":0.22,"y":0.12},{"x":0.22,"y":0.04},{"x":0.23,"y":0.06},{"x":0.23,"y":0.1},{"x":0.23,"y":0.15},{"x":0.25,"y":0.045},{"x":0.25,"y":0.08},{"x":0.25,"y":0.13},{"x":0.25,"y":0.2},{"x":0.25,"y":0.03},{"x":0.27,"y":0.022},{"x":0.27,"y":0.06},{"x":0.27,"y":0.1},{"x":0.27,"y":0.17},{"x":0.29,"y":0.05},{"x":0.29,"y":0.09},{"x":0.29,"y":0.14},{"x":0.29,"y":0.25},{"x":0.29,"y":0.04},{"x":0.31,"y":0.07},{"x":0.31,"y":0.12},{"x":0.31,"y":0.2},{"x":0.33,"y":0.58},{"x":0.33,"y":0.05},{"x":0.33,"y":0.1},{"x":0.33,"y":0.16},{"x":0.33,"y":0.28},{"x":0.36,"y":0.08},{"x":0.36,"y":0.13},{"x":0.36,"y":0.22},{"x":0.36,"y":0.04},{"x":0.4,"y":0.06},{"x":0.4,"y":0.11},{"x":0.4,"y":0.18},{"x":0.4,"y":0.3},{"x":0.43,"y":0.09},{"x":0.43,"y":0.15},{"x":0.43,"y":0.25},{"x":0.43,"y":0.045},{"x":0.47,"y":0.07},{"x":0.47,"y":0.12},{"x":0.47,"y":0.2},{"x":0.47,"y":0.35},{"x":0.5,"y":0.1},{"x":0.5,"y":0.17},{"x":0.5,"y":0.28},{"x":0.5,"y":0.06},{"x":0.55,"y":0.13},{"x":0.55,"y":0.22},{"x":0.55,"y":0.4},{"x":0.55,"y":0.08},{"x":0.6,"y":0.1},{"x":0.6,"y":0.18},{"x":0.6,"y":0.3},{"x":0.6,"y":0.5},{"x":0.66,"y":0.15},{"x":0.66,"y":0.25},{"x":0.66,"y":0.45},{"x":0.66,"y":0.09},{"x":0.72,"y":0.2},{"x":0.72,"y":0.35},{"x":0.72,"y":0.6},{"x":0.8,"y":0.25},{"x":0.8,"y":0.4},{"x":0.8,"y":0.7},{"x":0.8,"y":0.14},{"x":0.9,"y":0.3},{"x":0.9,"y":0.55},{"x":0.9,"y":0.9},{"x":1.0,"y":0.35},{"x":1.0,"y":0.6},{"x":1.0,"y":1.1},{"x":1.0,"y":0.2},{"x":1.1,"y":0.45},{"x":1.1,"y":0.8},{"x":1.1,"y":1.4},{"x":1.2,"y":0.5},{"x":1.2,"y":0.9},{"x":1.2,"y":0.3},{"x":1.34,"y":0.14},{"x":1.34,"y":0.6},{"x":1.34,"y":1.2},{"x":1.5,"y":0.7},{"x":1.5,"y":1.0},{"x":1.5,"y":0.12},{"x":1.7,"y":0.8},{"x":1.7,"y":1.3},{"x":2.0,"y":0.9},{"x":2.0,"y":1.5},{"x":2.0,"y":0.6},{"x":2.3,"y":1.1},{"x":2.3,"y":1.8},{"x":2.6,"y":1.3},{"x":2.6,"y":2.2},{"x":2.6,"y":0.8},{"x":3.0,"y":1.5},{"x":3.0,"y":2.5},{"x":3.5,"y":2.0},{"x":3.5,"y":3.0},{"x":4.0,"y":2.5},{"x":4.0,"y":4.0},{"x":5.0,"y":3.5},{"x":5.0,"y":6.0},{"x":6.0,"y":4.5},{"x":6.0,"y":1.2},{"x":7.0,"y":5.5},{"x":7.0,"y":8.0},{"x":8.4,"y":2.8},{"x":8.4,"y":4.3},{"x":8.4,"y":9},{"x":10,"y":10},{"x":13,"y":12},{"x":13,"y":15},{"x":17,"y":18},{"x":22,"y":22},{"x":22,"y":19},{"x":27.5,"y":28}],
"b3l": [{"x":0.4,"y":0.28},{"x":130,"y":850}]
},
"config": {
"font": "Liberation Sans",
"view": {"stroke": null},
"axis": {"grid": false, "ticks": true, "domainColor": "#333333", "domainWidth": 2, "tickColor": "#222222", "tickWidth": 1.5, "tickOpacity": 1, "labelFont": "Liberation Sans", "labelFontWeight": "bold", "labelFontSize": 14, "labelColor": "#111111", "labelPadding": 4, "labelOverlap": false, "labelFlush": false, "labelBound": false, "titleFont": "Liberation Sans", "titleFontWeight": "bold", "titleFontSize": 16.5, "titleColor": "#111111", "titlePadding": 8},
"title": {"font": "Liberation Sans", "fontWeight": "bold", "fontSize": 16.5, "color": "#111111"}
}
}
